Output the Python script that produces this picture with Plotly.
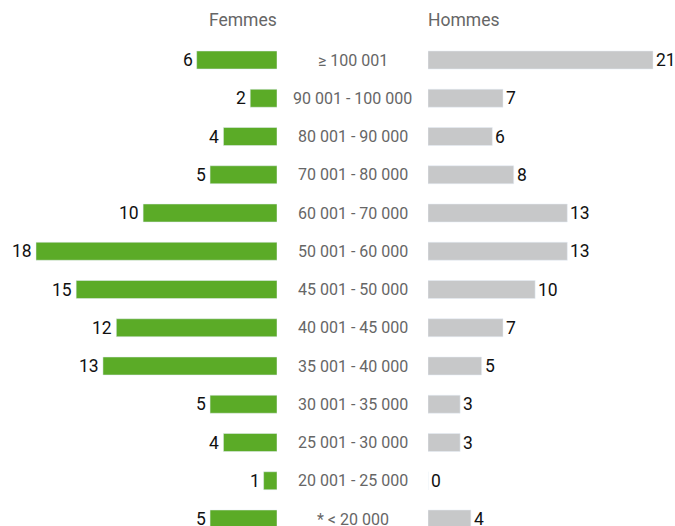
import plotly.graph_objects as go

categories = ["≥ 100 001", "90 001 - 100 000", "80 001 - 90 000", "70 001 - 80 000",
              "60 001 - 70 000", "50 001 - 60 000", "45 001 - 50 000", "40 001 - 45 000",
              "35 001 - 40 000", "30 001 - 35 000", "25 001 - 30 000", "20 001 - 25 000",
              "* < 20 000"]
femmes = [6, 2, 4, 5, 10, 18, 15, 12, 13, 5, 4, 1, 5]
hommes = [21, 7, 6, 8, 13, 13, 10, 7, 5, 3, 3, 0, 4]

W, H = 675, 526
FONT = "Roboto, Liberation Sans, sans-serif"
GREEN = "#5bab27"
GRAY = "#c7c8c9"
LABEL = "#666666"
VALUE = "#111111"

idx = list(range(len(categories)))
pitch = 38.25
top_px = 60
yr = [(H - top_px) / pitch, -top_px / pitch]

left_zero = 277
left_scale = (277 - 36) / 18
right_zero = 428
right_scale = (653 - 428) / 21

fig = go.Figure()
fig.add_trace(go.Bar(
    x=femmes, y=idx, orientation="h", marker_color=GREEN, width=0.47,
    xaxis="x", yaxis="y", hoverinfo="skip"))
fig.add_trace(go.Bar(
    x=hommes, y=idx, orientation="h", marker_color=GRAY, width=0.47,
    xaxis="x2", yaxis="y", hoverinfo="skip"))

annotations = []
for i, v in zip(idx, femmes):
    annotations.append(dict(x=v, y=i, xref="x", yref="y", text=str(v), showarrow=False,
                            xanchor="right", yanchor="middle", xshift=-2,
                            font=dict(color=VALUE, size=17.5, family=FONT)))
for i, v in zip(idx, hommes):
    annotations.append(dict(x=v, y=i, xref="x2", yref="y", text=str(v), showarrow=False,
                            xanchor="left", yanchor="middle", xshift=1,
                            font=dict(color=VALUE, size=17.5, family=FONT)))
for i, c in zip(idx, categories):
    annotations.append(dict(x=(left_zero + right_zero) / 2 / W, y=i, xref="paper", yref="y",
                            text=c, showarrow=False, xanchor="center", yanchor="middle",
                            font=dict(color=LABEL, size=16, family=FONT)))
annotations.append(dict(x=left_zero / W, y=1 - 20 / H, xref="paper", yref="paper",
                        text="Femmes", showarrow=False, xanchor="right", yanchor="middle",
                        xshift=2, font=dict(color=LABEL, size=17.5, family=FONT)))
annotations.append(dict(x=right_zero / W, y=1 - 20 / H, xref="paper", yref="paper",
                        text="Hommes", showarrow=False, xanchor="left", yanchor="middle",
                        xshift=-2, font=dict(color=LABEL, size=17.5, family=FONT)))

fig.update_layout(
    width=W, height=H, margin=dict(l=0, r=0, t=0, b=0),
    plot_bgcolor="white", paper_bgcolor="white", showlegend=False,
    bargap=0, annotations=annotations,
    xaxis=dict(domain=[0, left_zero / W], range=[left_zero / left_scale, 0],
               visible=False, fixedrange=True),
    xaxis2=dict(domain=[right_zero / W, 1], range=[0, (W - right_zero) / right_scale],
                visible=False, fixedrange=True),
    yaxis=dict(range=yr, visible=False, fixedrange=True),
)
fig.write_html(
    "out.html",
    config={"displayModeBar": False, "staticPlot": True},
    post_script="document.body.style.margin='0';document.documentElement.style.overflow='hidden';",
)
